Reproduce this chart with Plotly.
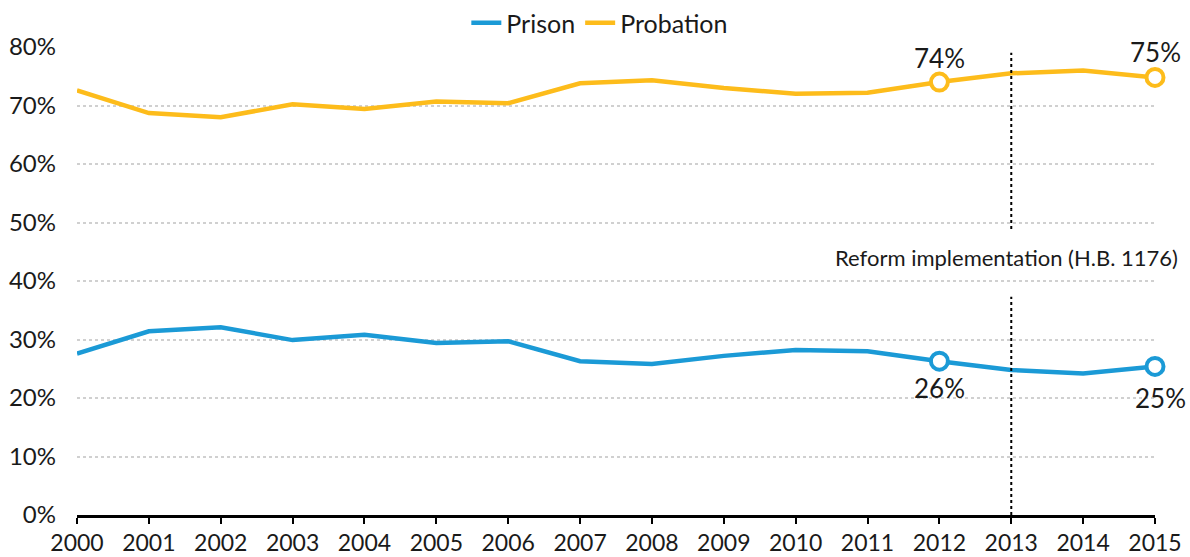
import plotly.graph_objects as go

years = list(range(2000, 2016))
probation = [0.726, 0.687, 0.680, 0.702, 0.694, 0.707, 0.704, 0.738, 0.743, 0.730,
             0.720, 0.722, 0.740, 0.755, 0.760, 0.748]
prison = [0.276, 0.314, 0.321, 0.299, 0.308, 0.294, 0.297, 0.263, 0.258, 0.272,
          0.282, 0.280, 0.263, 0.248, 0.242, 0.254]
highlight_years = [2012, 2015]
reform_year = 2013
reform_label = "Reform implementation (H.B. 1176)"
y_ticks = [0, 0.1, 0.2, 0.3, 0.4, 0.5, 0.6, 0.7, 0.8]

BLUE = "#1b9ad6"
YELLOW = "#fdbc1b"
FONT = "Lato, 'Open Sans', sans-serif"
TEXT = "#1a1a1a"

fig = go.Figure()

# label offsets (px) for the highlighted points: above probation, below prison
label_shift = {
    "Prison": [(0, -27), (5, -32)],
    "Probation": [(0, 24), (0, 25)],
}

for name, vals, color in [("Prison", prison, BLUE), ("Probation", probation, YELLOW)]:
    fig.add_trace(go.Scatter(
        x=years, y=vals, mode="lines", name=name,
        line=dict(color=color, width=4.5), cliponaxis=False,
    ))
    hx = highlight_years
    hy = [vals[years.index(y)] for y in hx]
    fig.add_trace(go.Scatter(
        x=hx, y=hy, mode="markers", showlegend=False,
        marker=dict(size=17, color="white", line=dict(color=color, width=4)),
        cliponaxis=False,
    ))
    for xv, yv, (dx, dy) in zip(hx, hy, label_shift[name]):
        fig.add_annotation(
            x=xv, y=yv, xref="x", yref="y", text=f"{round(yv * 100):.0f}%",
            showarrow=False, xshift=dx, yshift=dy,
            font=dict(size=26, color=TEXT, family=FONT),
        )

# dotted marker for the reform year, split around its label
for y0, y1 in [(0, 0.373), (0.489, 0.79)]:
    fig.add_shape(type="line", xref="x", yref="y", x0=reform_year, x1=reform_year,
                  y0=y0, y1=y1, line=dict(color="black", width=2, dash="dot"))

fig.add_annotation(x=reform_year, y=0.441, xref="x", yref="y", text=reform_label,
                   showarrow=False, xshift=-5, bgcolor="white",
                   font=dict(size=22, color=TEXT, family=FONT))

fig.update_layout(
    width=1190, height=557,
    margin=dict(l=77, r=35, t=47, b=42, autoexpand=False),
    paper_bgcolor="white", plot_bgcolor="white",
    font=dict(family=FONT, color=TEXT),
    legend=dict(orientation="h", x=0.485, xanchor="center", y=1.0, yanchor="top",
                yref="container", font=dict(size=25, color=TEXT, family=FONT),
                bgcolor="rgba(0,0,0,0)", itemwidth=30),
    showlegend=True,
)
fig.update_xaxes(
    range=[2000, 2015], tickvals=years, ticks="outside", ticklen=6, tickwidth=2,
    tickcolor="black", showline=True, linecolor="black", linewidth=2.5,
    showgrid=False, zeroline=False, tickfont=dict(size=23, color=TEXT, family=FONT),
    automargin=False,
)
fig.update_yaxes(
    range=[0, 0.8], tickvals=y_ticks, tickformat=".0%", showgrid=True,
    gridcolor="#d0d0d0", gridwidth=2, griddash="dot", zeroline=False,
    showline=False, ticks="", ticklabelstandoff=20, automargin=False,
    tickfont=dict(size=24, color=TEXT, family=FONT),
)

fig.write_html("out.html")
